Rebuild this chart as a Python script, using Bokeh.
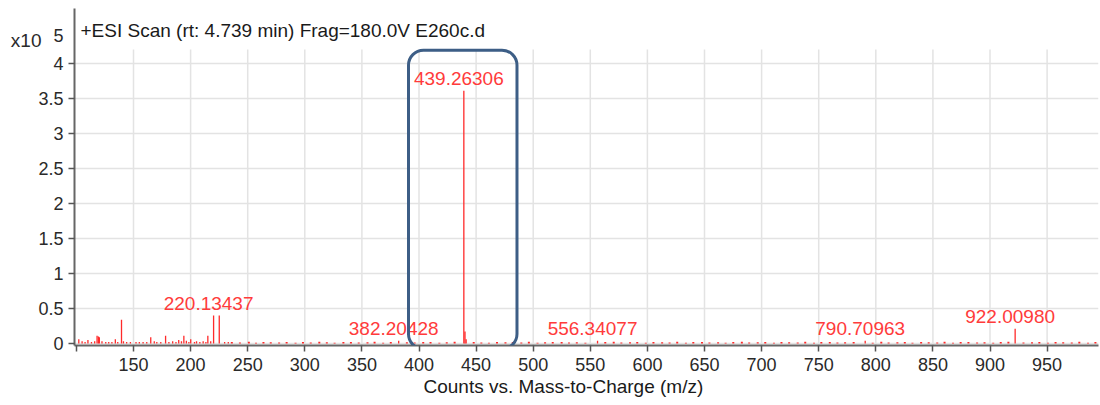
from bokeh.plotting import figure
from bokeh.models import (ColumnDataSource, Range1d, FixedTicker, Label,
                          BoxAnnotation, LinearAxis, Title)
from bokeh.core.properties import value
from bokeh.embed import file_html
from bokeh.resources import INLINE

# ---- spectrum data (intensity in units of 10^5 counts) ----
labeled_mz = [220.13437, 382.20428, 439.26306, 556.34077, 790.70963, 922.00980]
labeled_int = [0.40, 0.04, 3.61, 0.04, 0.04, 0.21]
labeled_txt = ["220.13437", "382.20428", "439.26306", "556.34077", "790.70963", "922.00980"]

minor_mz = [102.1, 105.0, 107.6, 110.1, 113.2, 116.0, 118.1, 119.3, 120.1, 122.4,
            125.7, 128.3, 131.1, 134.1, 136.2, 139.5, 141.2, 144.0, 147.3, 152.2,
            155.1, 158.4, 161.6, 165.1, 168.2, 170.4, 173.9, 178.1, 181.0, 184.3,
            187.2, 189.6, 192.0, 194.1, 196.3, 198.5, 200.1, 203.4, 205.2, 208.1,
            211.0, 213.4, 215.1, 217.6, 225.10, 229.8, 233.0, 440.27, 441.27]
minor_int = [0.06, 0.03, 0.02, 0.05, 0.02, 0.03, 0.11, 0.10, 0.09, 0.03,
             0.02, 0.02, 0.02, 0.06, 0.02, 0.34, 0.03, 0.02, 0.02, 0.02,
             0.02, 0.02, 0.02, 0.09, 0.03, 0.02, 0.02, 0.11, 0.02, 0.03,
             0.02, 0.05, 0.03, 0.11, 0.04, 0.02, 0.06, 0.02, 0.03, 0.02,
             0.03, 0.02, 0.11, 0.03, 0.40, 0.02, 0.02, 0.17, 0.06]

noise_mz = [236.1, 243.2, 251.0, 257.3, 263.8, 270.2, 277.5, 284.1, 291.9, 298.4,
            305.2, 312.7, 319.3, 326.1, 333.8, 340.4, 347.2, 354.9, 361.1, 368.6,
            375.3, 389.4, 396.2, 403.7, 410.1, 417.8, 424.3, 431.2, 447.9, 454.6,
            461.2, 468.3, 475.7, 482.1, 489.6, 496.2, 503.8, 510.4, 517.1, 524.9,
            531.3, 538.2, 545.7, 563.1, 570.5, 577.2, 584.8, 591.1, 598.6, 605.3,
            612.9, 619.4, 626.1, 633.7, 640.2, 647.8, 654.3, 661.9, 668.5, 675.2,
            682.7, 689.1, 696.6, 703.2, 710.8, 717.4, 724.1, 731.6, 738.2, 745.9,
            752.3, 759.7, 766.4, 773.1, 780.6, 797.3, 804.8, 811.2, 818.9, 825.4,
            832.1, 839.7, 846.3, 853.8, 860.2, 867.6, 874.3, 881.1, 888.7, 895.2,
            902.8, 909.4, 916.1, 929.3, 936.8, 943.2, 950.7, 957.4, 964.1, 971.6,
            978.2, 985.8, 992.3]
noise_int = [0.020, 0.015, 0.025, 0.012, 0.020, 0.018, 0.015, 0.022, 0.012, 0.020,
             0.015, 0.025, 0.018, 0.012, 0.020, 0.022, 0.015, 0.018, 0.025, 0.012,
             0.020, 0.018, 0.015, 0.022, 0.020, 0.012, 0.018, 0.025, 0.020, 0.015,
             0.012, 0.022, 0.018, 0.020, 0.015, 0.025, 0.012, 0.018, 0.020, 0.022,
             0.015, 0.018, 0.012, 0.020, 0.025, 0.015, 0.018, 0.022, 0.012, 0.020,
             0.018, 0.015, 0.025, 0.012, 0.020, 0.022, 0.015, 0.018, 0.012, 0.020,
             0.025, 0.015, 0.018, 0.022, 0.012, 0.020, 0.018, 0.015, 0.025, 0.012,
             0.020, 0.022, 0.015, 0.018, 0.020, 0.012, 0.025, 0.015, 0.018, 0.022,
             0.012, 0.020, 0.018, 0.015, 0.025, 0.012, 0.020, 0.022, 0.015, 0.018,
             0.012, 0.020, 0.025, 0.015, 0.018, 0.022, 0.012, 0.020, 0.018, 0.015,
             0.025, 0.012, 0.020]

x_ticks = list(range(100, 1000, 50))
y_ticks = [0, 0.5, 1, 1.5, 2, 2.5, 3, 3.5, 4]
y_tick_labels = ["0", "0.5", "1", "1.5", "2", "2.5", "3", "3.5", "4"]
# exponent of the intensity scale, shown as "x10" with a raised "5"
scale_text = "x10"
scale_exp = "5"

RED = "#ff2a2a"
LABEL_RED = "#ff3b3b"
AX_FONT = "Liberation Sans"
TXT = "#2a2a2a"

p = figure(width=1100, height=405, output_backend="svg", toolbar_location=None,
           x_range=Range1d(98.34, 995.0), y_range=Range1d(-0.029, 4.786),
           min_border_left=74, min_border_right=2, min_border_top=8,
           min_border_bottom=60)
p.outline_line_color = None
p.background_fill_color = "white"
p.border_fill_color = "white"

# horizontal grid lines at the y ticks; vertical ones drawn as segments below
p.xgrid.visible = False
p.ygrid.ticker = FixedTicker(ticks=y_ticks)
p.ygrid.grid_line_color = "#e3e3e3"
p.ygrid.grid_line_width = 1.5

grid_x = [t for t in x_ticks if t > 100]
p.segment(x0=grid_x, y0=[-0.03] * len(grid_x), x1=grid_x, y1=[4.2] * len(grid_x),
          line_color="#e3e3e3", line_width=1.5)

# x axis
xa = p.xaxis[0]
xa.axis_line_color = "#666666"
xa.axis_line_width = 2
xa.major_tick_line_color = "#555555"
xa.major_tick_line_width = 1.5
xa.major_tick_out = 6
xa.major_tick_in = 0
xa.minor_tick_line_color = None
xa.major_label_text_font = AX_FONT
xa.major_label_text_font_size = "18px"
xa.major_label_text_color = TXT
xa.ticker = FixedTicker(ticks=x_ticks)
xa.major_label_overrides = {100: ""}
xa.major_label_standoff = 6

# y axis: line and tick marks only
ya = p.yaxis[0]
ya.axis_line_color = "#666666"
ya.axis_line_width = 2
ya.major_tick_line_color = "#555555"
ya.major_tick_line_width = 1.5
ya.major_tick_out = 6
ya.major_tick_in = 0
ya.minor_tick_line_color = None
ya.ticker = FixedTicker(ticks=y_ticks)
ya.major_label_overrides = {t: "" for t in y_ticks}
ya.major_label_standoff = 0

# y tick labels, plus the raised exponent digit
ylab = LinearAxis(ticker=FixedTicker(ticks=y_ticks + [4.4]),
                  major_label_overrides={**{t: s for t, s in zip(y_ticks, y_tick_labels)},
                                         4.4: scale_exp},
                  axis_line_color=None, major_tick_line_color=None,
                  minor_tick_line_color=None, major_tick_out=0, major_tick_in=0,
                  major_label_standoff=5, major_label_text_font=AX_FONT,
                  major_label_text_font_size="18px", major_label_text_color=TXT)
p.add_layout(ylab, "left")

# scale factor text
yscale = LinearAxis(ticker=FixedTicker(ticks=[4.33]),
                    major_label_overrides={4.33: scale_text},
                    axis_line_color=None, major_tick_line_color=None,
                    minor_tick_line_color=None, major_tick_out=0, major_tick_in=0,
                    major_label_standoff=-6, major_label_text_font=AX_FONT,
                    major_label_text_font_size="19px", major_label_text_color=TXT)
p.add_layout(yscale, "left")

# x axis title
p.add_layout(Title(text="Counts vs. Mass-to-Charge (m/z)", align="left", offset=349,
                   standoff=0, text_font=AX_FONT, text_font_size="19px",
                   text_font_style="normal", text_color="#1a1a1a"), "below")

# spectrum sticks
noise = ColumnDataSource(dict(mz=noise_mz, h=noise_int))
p.segment(x0="mz", y0=0, x1="mz", y1="h", source=noise, line_color=RED, line_width=2)
minor = ColumnDataSource(dict(mz=minor_mz, h=minor_int))
p.segment(x0="mz", y0=0, x1="mz", y1="h", source=minor, line_color=RED, line_width=1.3)
peaks = ColumnDataSource(dict(mz=labeled_mz, h=labeled_int, txt=labeled_txt))
p.segment(x0="mz", y0=0, x1="mz", y1="h", source=peaks, line_color=RED, line_width=1.3)
p.text(x="mz", y="h", text="txt", source=peaks, text_font=value(AX_FONT),
       text_font_size="19px", text_color=LABEL_RED, text_align="center",
       text_baseline="middle", x_offset=-5, y_offset=-12)

# highlight around the base peak
p.add_layout(BoxAnnotation(left=390.8, right=485.8, bottom=-0.08, top=4.19,
                           fill_alpha=0, line_color="#3d5e86", line_alpha=1.0,
                           line_width=3, border_radius=15))

# scan description
p.add_layout(Label(x=103.6, y=4.471, text="+ESI Scan (rt: 4.739 min) Frag=180.0V E260c.d",
                   text_font=AX_FONT, text_font_size="19px",
                   text_color="#1a1a1a", text_align="left", text_baseline="middle"))

open("out.html", "w").write(file_html(p, INLINE))
